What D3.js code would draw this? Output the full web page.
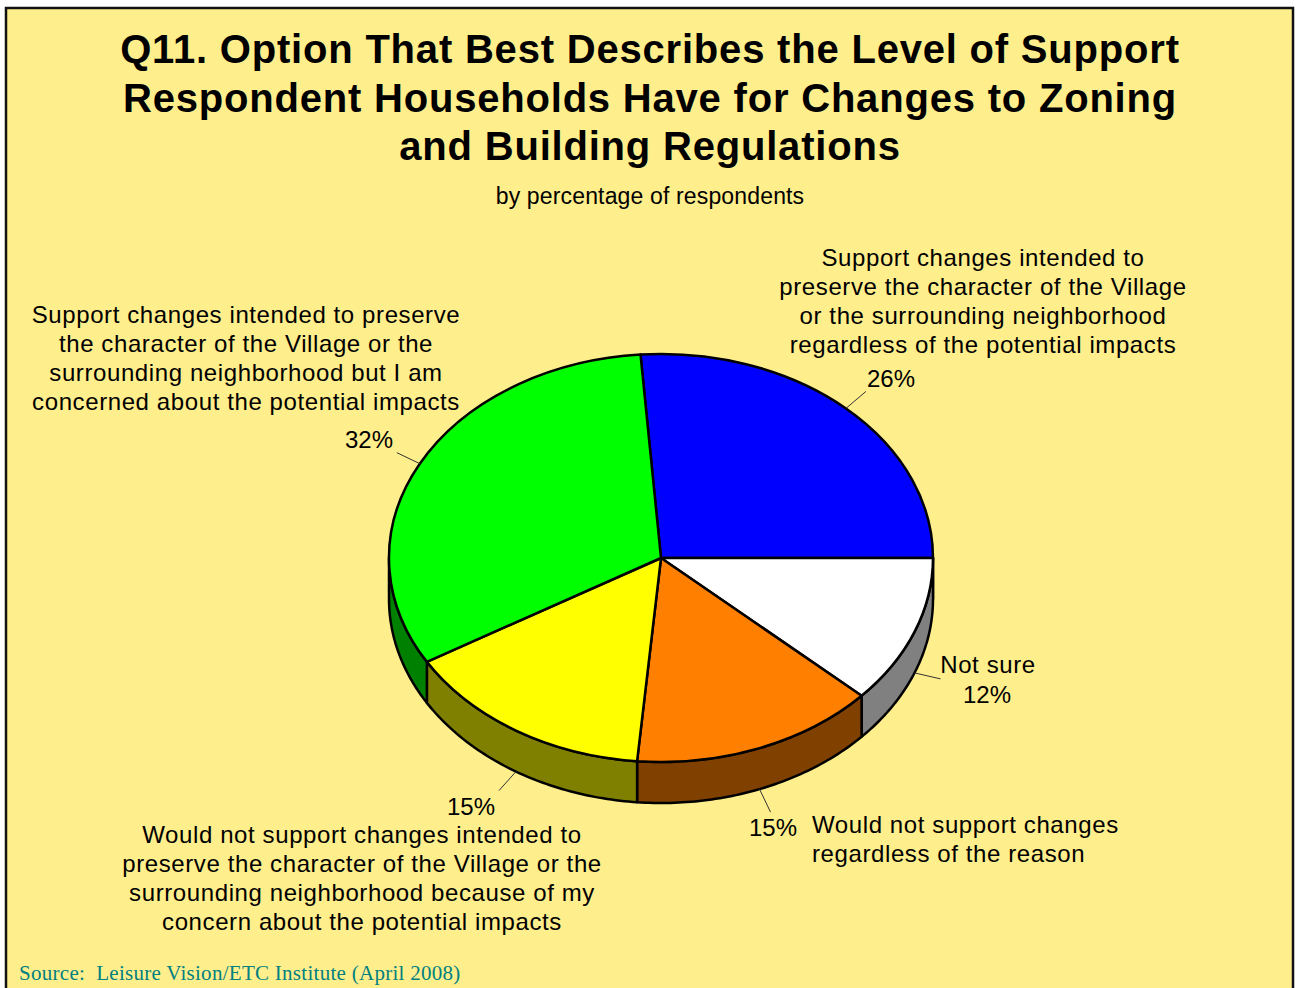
<!DOCTYPE html>
<html>
<head>
<meta charset="utf-8">
<script src="https://cdn.jsdelivr.net/npm/d3@7"></script>
<style>
  html, body { margin: 0; padding: 0; background: #fff; }
  svg { display: block; }
</style>
</head>
<body>
<div id="chart"></div>
<script>
const titleLines = [
  "Q11. Option That Best Describes the Level of Support",
  "Respondent Households Have for Changes to Zoning",
  "and Building Regulations"
]
const subtitle = "by percentage of respondents"
const source = "Source:  Leisure Vision/ETC Institute (April 2008)"

const categories = [
  ["Support changes intended to", "preserve the character of the Village", "or the surrounding neighborhood", "regardless of the potential impacts"],
  ["Not sure"],
  ["Would not support changes", "regardless of the reason"],
  ["Would not support changes intended to", "preserve the character of the Village or the", "surrounding neighborhood because of my", "concern about the potential impacts"],
  ["Support changes intended to preserve", "the character of the Village or the", "surrounding neighborhood but I am", "concerned about the potential impacts"]
]
const values = [26.2, 11.8, 14.6, 15.1, 32.3]
const colors = ["#0000ff", "#ffffff", "#ff8000", "#ffff00", "#00ff00"]
const sideColors = ["#000080", "#808080", "#804000", "#808000", "#008000"]

const width = 1299
const height = 988
const cx = 661
const cy = 558
const radius = 272
const tilt = 0.75
const depth = 41
const lineHeight = 29

// where each text block sits, same order as categories
const layout = [
  { x: 983, y: 266, anchor: "middle", pctX: 891, pctY: 387, out: [20, -17] },
  { x: 988, y: 673, anchor: "middle", pctX: 987, pctY: 703, out: [26, 6] },
  { x: 812, y: 833, anchor: "start", pctX: 773, pctY: 836, out: [11, 23] },
  { x: 362, y: 843, anchor: "middle", pctX: 471, pctY: 815, out: [-17, 19] },
  { x: 246, y: 323, anchor: "middle", pctX: 369, pctY: 448, out: [-23, -11] }
]

const svg = d3.select("#chart").append("svg")
  .attr("width", width)
  .attr("height", height)
  .attr("font-family", "'Liberation Sans', Arial, sans-serif")

svg.append("rect")
  .attr("x", 6)
  .attr("y", 8)
  .attr("width", 1287)
  .attr("height", 990)
  .attr("fill", "#ffee8c")
  .attr("stroke", "#111")
  .attr("stroke-width", 2.5)

svg.append("g")
  .attr("text-anchor", "middle")
  .attr("font-weight", "bold")
  .attr("font-size", 40)
  .attr("letter-spacing", 0.8)
  .selectAll("text")
  .data(titleLines)
  .join("text")
  .attr("x", 650)
  .attr("y", (d, i) => 63 + i * 48.5)
  .text(d => d)

svg.append("text")
  .attr("x", 650)
  .attr("y", 204)
  .attr("text-anchor", "middle")
  .attr("font-size", 23)
  .attr("letter-spacing", 0.15)
  .text(subtitle)

svg.append("text")
  .attr("x", 19)
  .attr("y", 980)
  .attr("font-family", "'Liberation Serif', 'Times New Roman', serif")
  .attr("font-size", 21)
  .attr("letter-spacing", 0.28)
  .attr("fill", "#008080")
  .style("white-space", "pre")
  .text(source)

const pie = d3.pie()
  .sort(null)
  .startAngle(-4.32 * Math.PI / 180)
  .endAngle(355.68 * Math.PI / 180)

const arcs = pie(values)
const arc = d3.arc().innerRadius(0).outerRadius(radius)
const px = a => cx + radius * Math.sin(a)
const py = a => cy - radius * tilt * Math.cos(a)

// side wall of the disc, only the part facing the viewer (angles 90 to 270)
const lineGen = d3.line()
function sidePath(d) {
  const a0 = Math.max(d.startAngle, Math.PI / 2)
  const a1 = Math.min(d.endAngle, Math.PI * 3 / 2)
  if (a1 <= a0) return null
  const angles = d3.range(0, 61).map(i => a0 + (a1 - a0) * i / 60)
  const top = angles.map(a => [px(a), py(a)])
  const bottom = angles.slice().reverse().map(a => [px(a), py(a) + depth])
  return lineGen(top.concat(bottom)) + "Z"
}

svg.append("g")
  .selectAll("path")
  .data(arcs)
  .join("path")
  .attr("d", sidePath)
  .attr("fill", (d, i) => sideColors[i])
  .attr("stroke", "#000")
  .attr("stroke-width", 2.5)
  .attr("stroke-linejoin", "round")

svg.append("g")
  .attr("transform", `translate(${cx},${cy}) scale(1,${tilt})`)
  .selectAll("path")
  .data(arcs)
  .join("path")
  .attr("d", arc)
  .attr("fill", (d, i) => colors[i])
  .attr("stroke", "#000")
  .attr("stroke-width", 2.5)
  .attr("stroke-linejoin", "round")
  .attr("vector-effect", "non-scaling-stroke")

// leader lines start on the rim at the middle of each slice
svg.append("g")
  .attr("stroke", "#333")
  .attr("stroke-width", 1)
  .selectAll("line")
  .data(arcs)
  .join("line")
  .each(function (d, i) {
    const mid = (d.startAngle + d.endAngle) / 2
    const x = px(mid)
    const y = py(mid) + (Math.cos(mid) < 0 ? depth : 0)
    d3.select(this)
      .attr("x1", x)
      .attr("y1", y)
      .attr("x2", x + layout[i].out[0])
      .attr("y2", y + layout[i].out[1])
  })

const labels = svg.append("g")
  .attr("font-size", 24)
  .attr("fill", "#000")

categories.forEach((lines, i) => {
  const l = layout[i]
  labels.append("g")
    .attr("text-anchor", l.anchor)
    .attr("letter-spacing", 0.6)
    .selectAll("text")
    .data(lines)
    .join("text")
    .attr("x", l.x)
    .attr("y", (d, j) => l.y + j * lineHeight)
    .text(d => d)
  labels.append("text")
    .attr("x", l.pctX)
    .attr("y", l.pctY)
    .attr("text-anchor", "middle")
    .text(Math.round(values[i]) + "%")
})
</script>
</body>
</html>
